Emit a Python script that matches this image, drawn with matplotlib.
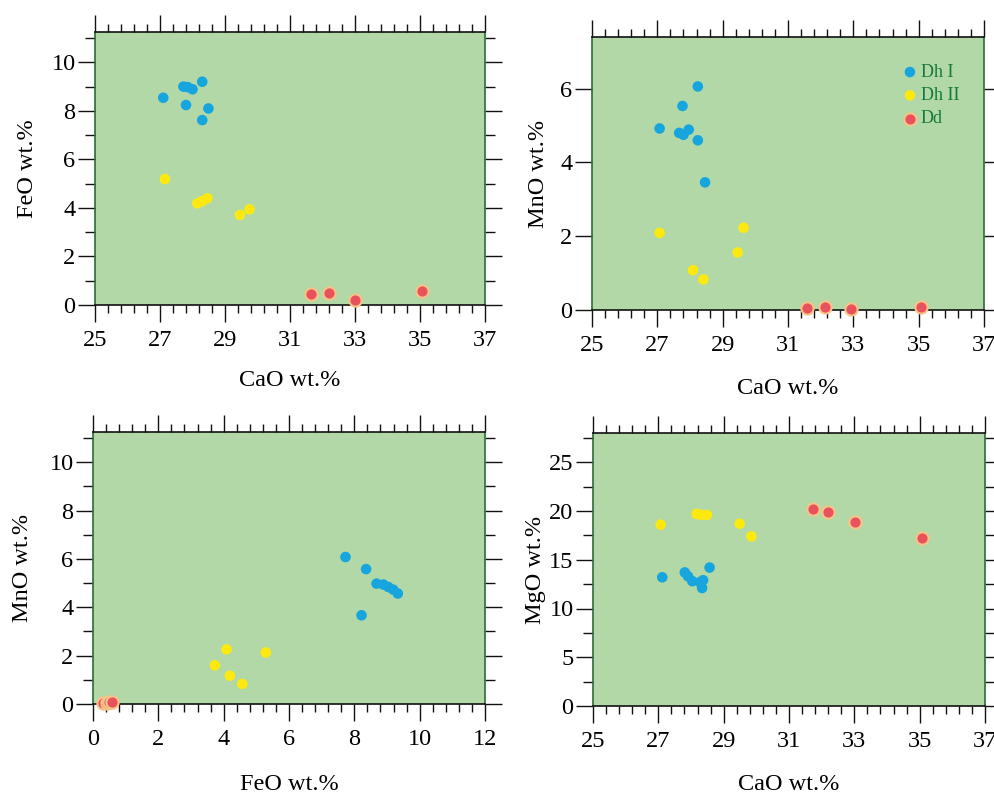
import matplotlib
matplotlib.use("Agg")
import matplotlib.pyplot as plt
import numpy as np
from matplotlib.ticker import FixedLocator

plt.rcParams['font.family'] = ['Liberation Serif', 'DejaVu Serif']

# ---------------- data ----------------
series_names = ["Dh I", "Dh II", "Dd"]

# Panel 1: CaO vs FeO
p1_dh1_cao = [27.10, 27.72, 27.85, 28.00, 28.30, 27.80, 28.49, 28.30]
p1_dh1_feo = [8.54, 9.00, 8.98, 8.89, 9.20, 8.24, 8.10, 7.62]
p1_dh2_cao = [27.15, 28.15, 28.30, 28.46, 29.46, 29.75]
p1_dh2_feo = [5.19, 4.19, 4.28, 4.40, 3.71, 3.94]
p1_dd_cao = [31.64, 32.20, 33.00, 35.05]
p1_dd_feo = [0.44, 0.48, 0.21, 0.58]

# Panel 2: CaO vs MnO
p2_dh1_cao = [27.07, 27.67, 27.77, 27.96, 28.24, 28.24, 28.46, 27.80]
p2_dh1_mno = [4.92, 4.80, 5.53, 4.89, 6.06, 4.60, 3.46, 4.75]
p2_dh2_cao = [27.07, 28.09, 28.41, 29.46, 29.64]
p2_dh2_mno = [2.09, 1.08, 0.83, 1.56, 2.23]
p2_dd_cao = [31.57, 32.14, 32.93, 35.06]
p2_dd_mno = [0.05, 0.07, 0.03, 0.09]

# Panel 3: FeO vs MnO
p3_dh1_feo = [7.73, 8.36, 8.68, 8.89, 9.04, 9.19, 9.33, 8.22]
p3_dh1_mno = [6.08, 5.58, 4.98, 4.94, 4.84, 4.73, 4.57, 3.67]
p3_dh2_feo = [3.73, 4.09, 4.19, 4.57, 5.29]
p3_dh2_mno = [1.60, 2.26, 1.17, 0.83, 2.13]
p3_dd_feo = [0.32, 0.44, 0.48, 0.58]
p3_dd_mno = [0.03, 0.05, 0.07, 0.09]

# Panel 4: CaO vs MgO
p4_dh1_cao = [27.12, 27.81, 27.91, 28.04, 28.27, 28.37, 28.34, 28.57]
p4_dh1_mgo = [13.2, 13.7, 13.3, 12.8, 12.7, 12.9, 12.1, 14.2]
p4_dh2_cao = [27.07, 28.17, 28.32, 28.49, 29.49, 29.85]
p4_dh2_mgo = [18.6, 19.7, 19.6, 19.6, 18.7, 17.4]
p4_dd_cao = [31.72, 32.20, 33.02, 35.06]
p4_dd_mgo = [20.2, 19.9, 18.9, 17.2]

# tick values
cao_major = [25, 27, 29, 31, 33, 35, 37]
feo_major = [0, 2, 4, 6, 8, 10, 12]
feo_y_major = [0, 2, 4, 6, 8, 10]
mno_major = [0, 2, 4, 6]
mgo_major = [0, 5, 10, 15, 20, 25]

x_label_cao = "CaO wt.%"
x_label_feo = "FeO wt.%"

# ---------------- style ----------------
BG = "#b2d8a7"
BLUE = "#16a6dd"
YELLOW = "#fde910"
RED = "#e8525c"
RED_EDGE = "#f6c488"
LEGEND_TXT = "#167a3a"
SPINE_G = "#2d6b3a"

fig = plt.figure(figsize=(9.95, 7.95), dpi=100)

def px_rect(x0, y0, x1, y1):
    W, H = 995.0, 795.0
    return [x0 / W, 1 - y1 / H, (x1 - x0) / W, (y1 - y0) / H]

def style(ax, xlim, ylim, xmaj, xminstep, ymaj, yminstep):
    ax.set_facecolor(BG)
    ax.set_xlim(*xlim)
    ax.set_ylim(*ylim)
    ax.xaxis.set_major_locator(FixedLocator(xmaj))
    ax.xaxis.set_minor_locator(FixedLocator(np.arange(xlim[0], xlim[1] + 1e-6, xminstep)))
    ax.yaxis.set_major_locator(FixedLocator(ymaj))
    if yminstep:
        ax.yaxis.set_minor_locator(FixedLocator(np.arange(ylim[0], ylim[1] + 1e-6, yminstep)))
    ax.tick_params(which='both', direction='out', top=True, right=True,
                   labeltop=False, labelright=False, width=1.0, color='#111111')
    ax.tick_params(which='major', length=12, labelsize=17.5)
    ax.tick_params(axis='x', which='major', pad=6)
    ax.tick_params(axis='y', which='major', pad=2)
    ax.tick_params(axis='x', which='minor', length=6)
    ax.tick_params(axis='y', which='minor', length=7)
    for s in ['left', 'right']:
        ax.spines[s].set_color(SPINE_G)
        ax.spines[s].set_linewidth(1.2)
    for s in ['top', 'bottom']:
        ax.spines[s].set_color('#111111')
        ax.spines[s].set_linewidth(1.2)

def draw(ax, xs, ys):
    ax.scatter(xs[0], ys[0], s=58, color=BLUE, edgecolors='none', zorder=3, label=series_names[0], clip_on=False)
    ax.scatter(xs[1], ys[1], s=58, color=YELLOW, edgecolors='none', zorder=3, label=series_names[1], clip_on=False)
    ax.scatter(xs[2], ys[2], s=78, color=RED, edgecolors=RED_EDGE, linewidths=1.5, zorder=4,
               label=series_names[2], clip_on=False)

# Panel 1
ax1 = fig.add_axes(px_rect(95, 32, 485, 305))
style(ax1, (25, 37), (0, 11.25), cao_major, 0.4, feo_y_major, 1)
draw(ax1, [p1_dh1_cao, p1_dh2_cao, p1_dd_cao], [p1_dh1_feo, p1_dh2_feo, p1_dd_feo])
ax1.set_xlabel(x_label_cao, fontsize=17.5, labelpad=14)
ax1.set_ylabel("FeO wt.%", fontsize=17.5, labelpad=10)

# Panel 2
ax2 = fig.add_axes(px_rect(592, 37, 984, 310))
style(ax2, (25, 37), (0, 7.4), cao_major, 0.4, mno_major, None)
draw(ax2, [p2_dh1_cao, p2_dh2_cao, p2_dd_cao], [p2_dh1_mno, p2_dh2_mno, p2_dd_mno])
ax2.set_xlabel(x_label_cao, fontsize=17.5, labelpad=16)
ax2.set_ylabel("MnO wt.%", fontsize=17.5, labelpad=8)
leg = ax2.legend(loc='upper left', bbox_to_anchor=(0.765, 0.935), frameon=False,
                 handletextpad=0.1, labelspacing=0.35, borderpad=0, handlelength=1.0,
                 fontsize=13, scatterpoints=1)
for t in leg.get_texts():
    t.set_color(LEGEND_TXT)

# Panel 3
ax3 = fig.add_axes(px_rect(93, 432, 485, 704))
style(ax3, (0, 12), (0, 11.25), feo_major, 0.4, feo_y_major, 1)
draw(ax3, [p3_dh1_feo, p3_dh2_feo, p3_dd_feo], [p3_dh1_mno, p3_dh2_mno, p3_dd_mno])
ax3.set_xlabel(x_label_feo, fontsize=17.5, labelpad=17)
ax3.set_ylabel("MnO wt.%", fontsize=17.5, labelpad=12)

# Panel 4
ax4 = fig.add_axes(px_rect(593, 433, 985, 706))
style(ax4, (25, 37), (0, 28), cao_major, 0.4, mgo_major, 2.5)
draw(ax4, [p4_dh1_cao, p4_dh2_cao, p4_dd_cao], [p4_dh1_mgo, p4_dh2_mgo, p4_dd_mgo])
ax4.set_xlabel(x_label_cao, fontsize=17.5, labelpad=16)
ax4.set_ylabel("MgO wt.%", fontsize=17.5, labelpad=2)

fig.savefig("out.png", dpi=100)
